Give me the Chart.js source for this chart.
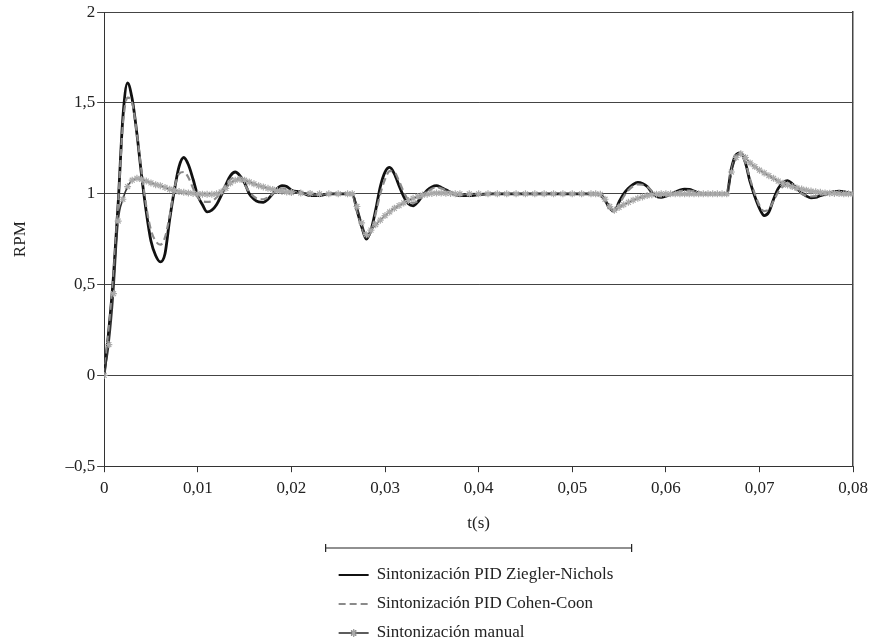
<!DOCTYPE html>
<html>
<head>
<meta charset="utf-8">
<script src="https://cdn.jsdelivr.net/npm/chart.js@4.4.1/dist/chart.umd.min.js"></script>
<style>
  body { margin: 0; background: #fff; }
  #wrap { width: 870px; height: 643px; }
</style>
</head>
<body>
<div id="wrap"><canvas id="canvas"></canvas></div>
<script>
// tiempo (s), one row per stretch of the simulation
const tiempo = [
    0, 0.0005, 0.001, 0.0015, 0.002, 0.0025, 0.003, 0.0035, 0.004, 0.0045, 0.005, 0.0055, 0.006, 0.0065, 0.007, 0.0075, 0.008, 0.0085, 0.009, 0.0095, 0.01, 0.0105, 0.011, 0.0115, 0.012, 0.0125, 0.013, 0.0135, 0.014, 0.0145, 0.015, 0.0155, 0.016, 0.0165, 0.017, 0.0175, 0.018, 0.0185, 0.019, 0.0195, 0.02,
    0.021, 0.022, 0.023, 0.024, 0.025, 0.026, 0.0265,
    0.027, 0.0275, 0.028, 0.0285, 0.029, 0.0295, 0.03, 0.0305, 0.031, 0.0315, 0.032, 0.0325, 0.033, 0.0335, 0.034, 0.0345, 0.035, 0.0355, 0.036, 0.0365, 0.037, 0.0375, 0.038,
    0.039, 0.04, 0.041, 0.042, 0.043, 0.044, 0.045, 0.046, 0.047, 0.048, 0.049, 0.05, 0.051, 0.052, 0.0525,
    0.053, 0.0535, 0.054, 0.0545, 0.055, 0.0555, 0.056, 0.0565, 0.057, 0.0575, 0.058, 0.0585, 0.059, 0.0595, 0.06, 0.0605, 0.061, 0.0615, 0.062, 0.0625, 0.063, 0.0635, 0.064, 0.0645, 0.065, 0.0655, 0.066, 0.0665,
    0.067, 0.0675, 0.068, 0.0685, 0.069, 0.0695, 0.07, 0.0705, 0.071, 0.0715, 0.072, 0.0725, 0.073, 0.0735, 0.074, 0.0745, 0.075, 0.0755, 0.076, 0.0765, 0.077, 0.0775, 0.078, 0.0785, 0.079, 0.0795, 0.08
];

const zieglerNichols = [
    0, 0.25, 0.55, 0.95, 1.42, 1.61, 1.52, 1.33, 1.10, 0.90, 0.74, 0.66, 0.625, 0.67, 0.86, 1.02, 1.15, 1.20, 1.16, 1.08, 0.99, 0.94, 0.90, 0.91, 0.94, 0.99, 1.05, 1.10, 1.12, 1.10, 1.06, 1.00, 0.97, 0.955, 0.953, 0.97, 1.00, 1.03, 1.045, 1.04, 1.02,
    1.01, 0.99, 0.99, 1.0, 1.0, 1.0, 1.0,
    0.91, 0.82, 0.75, 0.80, 0.91, 1.04, 1.12, 1.145, 1.11, 1.045, 0.985, 0.945, 0.934, 0.955, 0.99, 1.02, 1.038, 1.045, 1.035, 1.022, 1.008, 0.995, 0.99,
    0.99, 0.995, 1.0, 1.0, 1.0, 1.0, 1.0, 1.0, 1.0, 1.0, 1.0, 1.0, 1.0, 1.0, 1.0,
    0.995, 0.965, 0.92, 0.905, 0.955, 1.0, 1.03, 1.052, 1.063, 1.057, 1.04, 1.008, 0.985, 0.98, 0.987, 0.998, 1.01, 1.02, 1.025, 1.024, 1.015, 1.005, 1.0, 1.0, 1.0, 1.0, 1.0, 1.0,
    1.14, 1.215, 1.225, 1.17, 1.065, 0.985, 0.92, 0.88, 0.90, 0.97, 1.03, 1.06, 1.072, 1.055, 1.03, 1.005, 0.988, 0.978, 0.98, 0.99, 0.997, 1.005, 1.012, 1.015, 1.012, 1.005, 1.0
];

const cohenCoon = [
    0, 0.25, 0.55, 0.95, 1.38, 1.53, 1.50, 1.33, 1.12, 0.93, 0.80, 0.74, 0.72, 0.76, 0.88, 1.03, 1.11, 1.12, 1.09, 1.03, 0.98, 0.96, 0.955, 0.96, 0.98, 1.01, 1.05, 1.08, 1.09, 1.08, 1.05, 1.01, 0.985, 0.97, 0.97, 0.98, 1.00, 1.02, 1.03, 1.025, 1.015,
    1.005, 0.997, 0.996, 1.0, 1.0, 1.0, 1.0,
    0.91, 0.82, 0.76, 0.79, 0.89, 1.0, 1.08, 1.125, 1.12, 1.07, 1.01, 0.965, 0.95, 0.96, 0.985, 1.01, 1.028, 1.035, 1.03, 1.02, 1.01, 1.0, 0.995,
    1.0, 1.0, 1.0, 1.0, 1.0, 1.0, 1.0, 1.0, 1.0, 1.0, 1.0, 1.0, 1.0, 1.0, 1.0,
    0.995, 0.965, 0.925, 0.907, 0.94, 0.985, 1.02, 1.042, 1.052, 1.05, 1.04, 1.015, 0.995, 0.985, 0.988, 0.996, 1.005, 1.013, 1.018, 1.018, 1.013, 1.006, 1.0, 1.0, 1.0, 1.0, 1.0, 1.0,
    1.13, 1.205, 1.215, 1.17, 1.08, 1.0, 0.935, 0.905, 0.915, 0.96, 1.01, 1.04, 1.05, 1.04, 1.02, 1.0, 0.99, 0.985, 0.987, 0.993, 1.0, 1.005, 1.008, 1.008, 1.005, 1.002, 1.0
];

const manual = [
    0, 0.17, 0.45, 0.85, 0.97, 1.04, 1.075, 1.085, 1.08, 1.07, 1.06, 1.05, 1.045, 1.035, 1.025, 1.02, 1.012, 1.008, 1.005, 1.002, 1.0, 0.998, 0.997, 0.997, 1.0, 1.01, 1.03, 1.06, 1.075, 1.08, 1.075, 1.065, 1.055, 1.045, 1.038, 1.03, 1.024, 1.018, 1.013, 1.01, 1.007,
    1.004, 1.002, 1.0, 1.0, 1.0, 1.0, 1.0,
    0.93, 0.84, 0.775, 0.80, 0.83, 0.855, 0.88, 0.90, 0.92, 0.935, 0.95, 0.963, 0.975, 0.985, 0.993, 0.998, 1.002, 1.004, 1.004, 1.003, 1.002, 1.0, 1.0,
    1.0, 1.0, 1.0, 1.0, 1.0, 1.0, 1.0, 1.0, 1.0, 1.0, 1.0, 1.0, 1.0, 1.0, 1.0,
    0.997, 0.97, 0.93, 0.91, 0.925, 0.94, 0.953, 0.965, 0.975, 0.983, 0.99, 0.995, 0.998, 1.0, 1.0, 1.0, 1.0, 1.0, 1.0, 1.0, 1.0, 1.0, 1.0, 1.0, 1.0, 1.0, 1.0, 1.0,
    1.12, 1.2, 1.22, 1.2, 1.17, 1.15, 1.13, 1.115, 1.10, 1.085, 1.07, 1.058, 1.048, 1.04, 1.032, 1.026, 1.02, 1.015, 1.011, 1.008, 1.005, 1.003, 1.002, 1.001, 1.0, 1.0, 1.0
];

const etiquetas = ['Sintonización PID Ziegler-Nichols', 'Sintonización PID Cohen-Coon', 'Sintonización manual'];

[zieglerNichols, cohenCoon, manual].forEach(serie => {
    if (serie.length !== tiempo.length) console.error('largo distinto', serie.length, tiempo.length);
});

const puntos = serie => tiempo.map((t, i) => ({ x: t, y: serie[i] }));
const coma = v => v.toString().replace('.', ',');

Chart.defaults.font.family = "'Liberation Serif', 'DejaVu Serif', serif";
Chart.defaults.font.size = 17;
Chart.defaults.color = '#222';

// legend drawn as a vertical list under the chart
const leyendaVertical = {
    id: 'leyendaVertical',
    afterDraw(chart) {
        const ctx = chart.ctx;
        const area = chart.chartArea;
        const cx = (area.left + area.right) / 2;
        ctx.save();
        ctx.strokeStyle = '#222';
        ctx.lineWidth = 1.2;
        ctx.beginPath();
        ctx.moveTo(cx - 153, 548); ctx.lineTo(cx + 153, 548);
        ctx.moveTo(cx - 153, 544); ctx.lineTo(cx - 153, 552);
        ctx.moveTo(cx + 153, 544); ctx.lineTo(cx + 153, 552);
        ctx.stroke();

        chart.data.datasets.forEach((ds, i) => {
            const y = 575 + i * 29;
            const x0 = cx - 140;
            ctx.save();
            ctx.strokeStyle = ds.borderColor;
            ctx.lineWidth = Math.min(ds.borderWidth, 2);
            ctx.setLineDash(ds.borderDash || []);
            ctx.beginPath();
            ctx.moveTo(x0, y); ctx.lineTo(x0 + 30, y);
            ctx.stroke();
            ctx.restore();
            if (ds.pointRadius > 0) {
                Chart.helpers.drawPoint(ctx, {
                    pointStyle: ds.pointStyle, radius: ds.pointRadius, borderWidth: ds.pointBorderWidth
                }, x0 + 15, y);
                ctx.strokeStyle = ds.pointBorderColor;
                ctx.lineWidth = ds.pointBorderWidth;
                ctx.stroke();
            }
            ctx.fillStyle = '#222';
            ctx.textBaseline = 'middle';
            ctx.textAlign = 'left';
            ctx.font = "17px 'Liberation Serif', 'DejaVu Serif', serif";
            ctx.fillText(etiquetas[i], x0 + 38, y);
        });
        ctx.restore();
    }
};

const ctx = document.getElementById('canvas').getContext('2d');
const myChart = new Chart(ctx, {
    type: 'line',
    data: {
        datasets: [{
            label: etiquetas[0],
            data: puntos(zieglerNichols),
            borderColor: '#111',
            borderWidth: 2.8,
            pointRadius: 0,
            order: 3
        }, {
            label: etiquetas[1],
            data: puntos(cohenCoon),
            borderColor: '#8a8a8a',
            borderWidth: 2.2,
            borderDash: [7, 4],
            pointRadius: 0,
            order: 2
        }, {
            label: etiquetas[2],
            data: puntos(manual),
            borderColor: '#333',
            borderWidth: 1.6,
            pointStyle: 'star',
            pointRadius: 3.5,
            pointBorderColor: '#aaa',
            pointBackgroundColor: '#aaa',
            pointBorderWidth: 1.2,
            order: 1
        }]
    },
    options: {
        responsive: true,
        maintainAspectRatio: false,
        animation: false,
        cubicInterpolationMode: 'monotone',
        layout: { padding: { left: 4, right: 5, top: 8, bottom: 109 } },
        plugins: {
            legend: { display: false },
            tooltip: { enabled: false }
        },
        scales: {
            x: {
                type: 'linear',
                min: 0,
                max: 0.08,
                ticks: {
                    stepSize: 0.01,
                    padding: 6,
                    maxRotation: 0,
                    callback: v => v === 0 ? '0' : coma(v.toFixed(2))
                },
                afterFit: s => { s.paddingRight = Math.max(0, s.paddingRight - 4); },
                grid: { drawOnChartArea: false, drawTicks: true, tickLength: 6, color: '#333' },
                border: { color: '#333', width: 1 },
                title: { display: true, text: 't(s)', padding: { top: 9, bottom: 0 } }
            },
            y: {
                min: -0.5,
                max: 2,
                ticks: {
                    stepSize: 0.5,
                    padding: 2,
                    callback: v => v === 0 ? '0' : (v < 0 ? '–' : '') + coma(Math.abs(v))
                },
                grid: { color: '#444', lineWidth: 1, tickLength: 7 },
                border: { color: '#333', width: 1 },
                title: { display: true, text: 'RPM', padding: { top: 6, bottom: 33 } }
            },
            y2: {
                position: 'right',
                min: -0.5,
                max: 2,
                ticks: { display: false },
                grid: { display: false },
                border: { color: '#444', width: 1.5 }
            }
        }
    },
    plugins: [leyendaVertical]
});
</script>
</body>
</html>
